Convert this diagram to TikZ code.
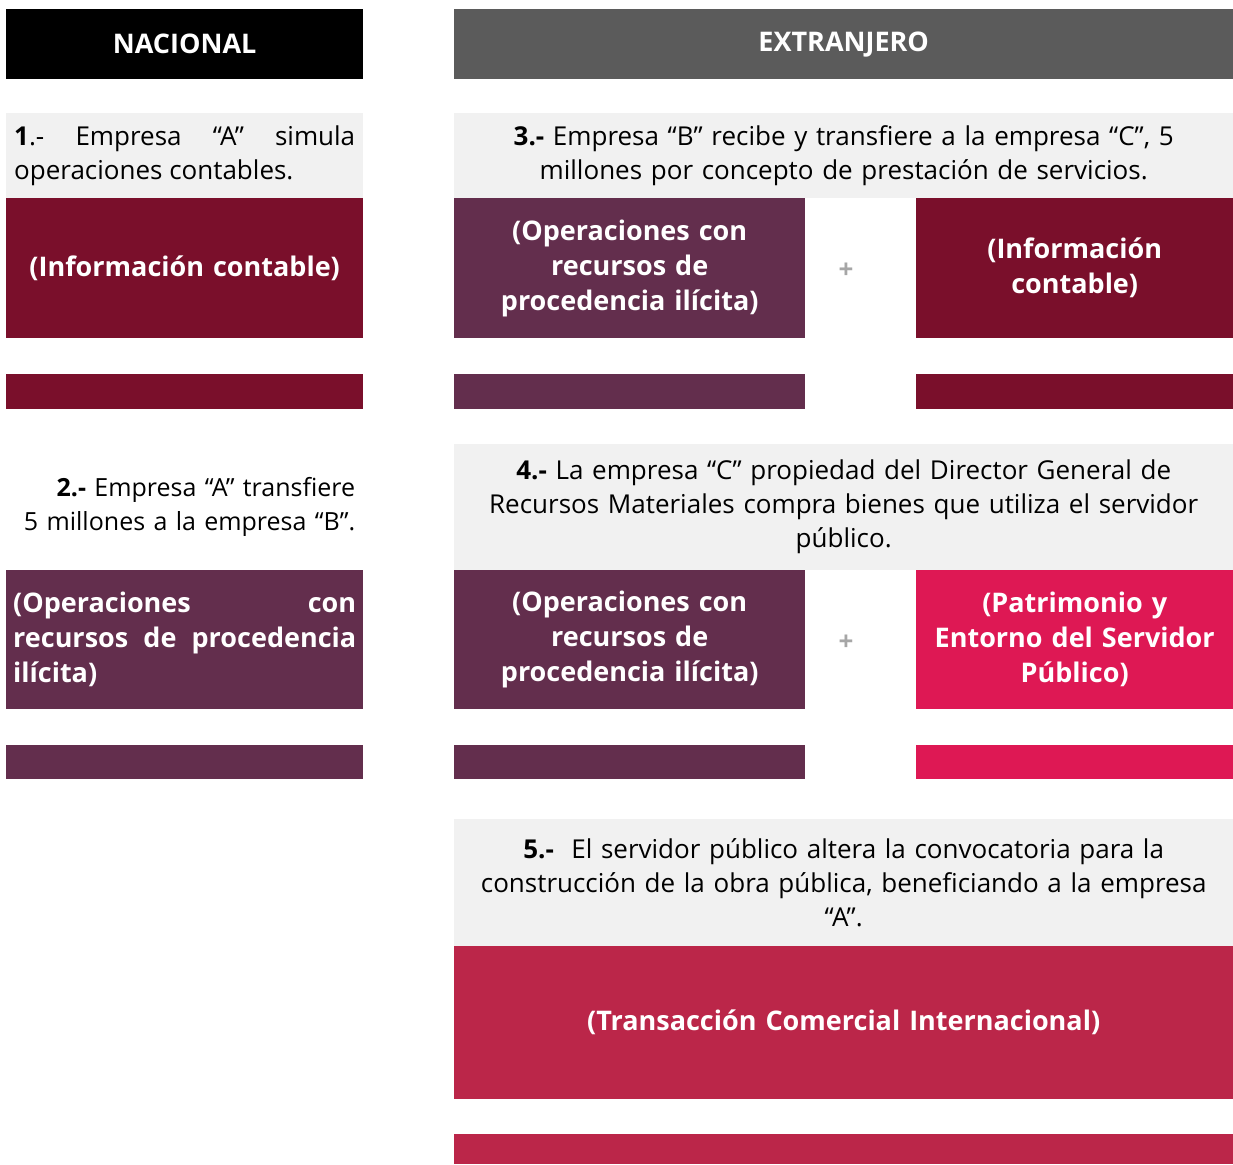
\documentclass[tikz,border=0pt]{standalone}
\usepackage{fontspec}
\setmainfont{Open Sans}
\usetikzlibrary{positioning}

\definecolor{guinda}{HTML}{7A0F2B}
\definecolor{morado}{HTML}{632E4D}
\definecolor{rosa}{HTML}{DE1854}
\definecolor{carmin}{HTML}{BB2649}
\definecolor{grisoscuro}{HTML}{5B5B5B}
\definecolor{grisclaro}{HTML}{F1F1F1}

\begin{document}
\begin{tikzpicture}[x=1pt,y=-1pt,
    header/.style={anchor=north west, inner sep=0pt, text=white, font=\fontsize{27}{30}\selectfont\bfseries},
    card/.style={anchor=north west, inner sep=0pt, text=white, align=center, font=\fontsize{27}{35}\selectfont\bfseries},
    note/.style={anchor=north west, inner sep=0pt, fill=grisclaro, text=black, align=center, font=\fontsize{26}{34}\selectfont},
    plus/.style={text=black!35, font=\fontsize{26}{26}\selectfont\bfseries}]

\def\BARONE{guinda}
\def\BARTWO{morado}
\def\BARTHREE{rosa}
\def\BARFOUR{carmin}
	\useasboundingbox (0,0) rectangle (1233,1164);

	% encabezados
	\node[header, fill=black, minimum width=357pt, minimum height=70pt] (nacional) at (6,9) {NACIONAL};
	\node[header, fill=grisoscuro, minimum width=779pt, minimum height=70pt] (extranjero) at (454,9) {EXTRANJERO};

	% columna nacional
	\node[note, minimum width=357pt, minimum height=85pt, text width=341pt, align=justify] (paso1) at (6,113)
		{\textbf{1}.- Empresa ``A'' simula\linebreak operaciones contables.};
	\node[card, fill=guinda, minimum width=357pt, minimum height=140pt, text width=340pt] (infoA) at (6,198)
		{(Información contable)};
	\node[note, fill=white, minimum width=357pt, minimum height=126pt, text width=341pt, align=right,
		font=\fontsize{25}{34}\selectfont] (paso2) at (6,444)
		{\textbf{2.-} Empresa ``A'' transfiere\\5 millones a la empresa ``B''.};
	\node[card, fill=morado, minimum width=357pt, minimum height=139pt, text width=343pt, align=justify] (operA) at (6,570)
		{(Operaciones con\linebreak recursos de procedencia\linebreak ilícita)};

	% columna extranjero
	\node[note, minimum width=779pt, minimum height=85pt, text width=765pt] (paso3) at (454,113)
		{\textbf{3.-} Empresa ``B'' recibe y transfiere a la empresa ``C'', 5\\millones por concepto de prestación de servicios.};
	\node[card, fill=morado, minimum width=351pt, minimum height=140pt, text width=335pt] (operB) at (454,198)
		{(Operaciones con\\recursos de\\procedencia ilícita)};
	\node[card, fill=guinda, minimum width=317pt, minimum height=140pt, text width=305pt] (infoC) at (916,198)
		{(Información\\contable)};
	\node[plus] (mas1) at (846,271) {+};

	\node[note, minimum width=779pt, minimum height=126pt, text width=765pt] (paso4) at (454,444)
		{\textbf{4.-} La empresa ``C'' propiedad del Director General de\\Recursos Materiales compra bienes que utiliza el servidor\\público.};
	\node[card, fill=morado, minimum width=351pt, minimum height=139pt, text width=335pt] (operC) at (454,570)
		{(Operaciones con\\recursos de\\procedencia ilícita)};
	\node[card, fill=rosa, minimum width=317pt, minimum height=139pt, text width=305pt] (patrimonio) at (916,570)
		{(Patrimonio y\\Entorno del Servidor\\Público)};
	\node[plus] (mas2) at (846,643) {+};

	\node[note, minimum width=779pt, minimum height=127pt, text width=765pt] (paso5) at (454,819)
		{\textbf{5.-}\ \ El servidor público altera la convocatoria para la\\construcción de la obra pública, beneficiando a la empresa\\``A''.};
	\node[card, fill=carmin, minimum width=779pt, minimum height=153pt, text width=765pt] (transaccion) at (454,946)
		{(Transacción Comercial Internacional)};

	% barras
	\fill[\BARONE] (6,374) rectangle ++ (357,35);
	\fill[\BARTWO] (454,374) rectangle ++ (351,35);
	\fill[\BARONE] (916,374) rectangle ++ (317,35);
	\fill[\BARTWO] (6,745) rectangle ++ (357,34);
	\fill[\BARTWO] (454,745) rectangle ++ (351,34);
	\fill[\BARTHREE] (916,745) rectangle ++ (317,34);
	\fill[\BARFOUR] (454,1134) rectangle ++ (779,30);

\end{tikzpicture}
\end{document}
